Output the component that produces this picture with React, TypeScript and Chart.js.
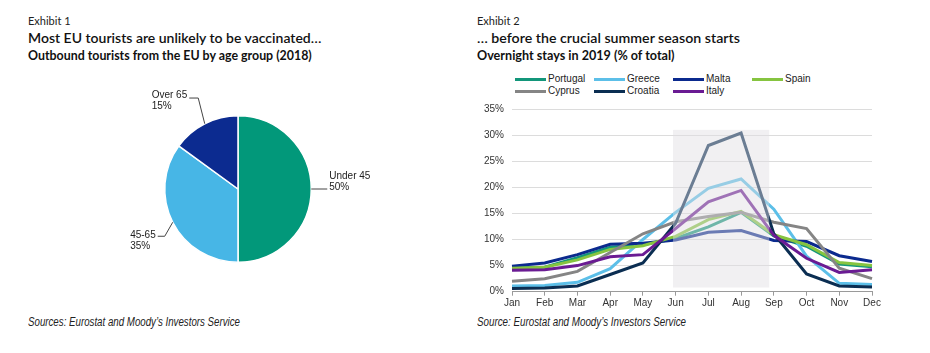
import React, { useEffect, useRef } from "react";
import { Chart, registerables } from "chart.js";

Chart.register(...registerables);

// ---------- Exhibit 1 data ----------
const ageGroups = ["Under 45", "45-65", "Over 65"];
const ageShares = [50, 35, 15];
const ageColors = ["#02987a", "#47b6e6", "#0c2b90"];

// ---------- Exhibit 2 data ----------
const months = ["Jan", "Feb", "Mar", "Apr", "May", "Jun", "Jul", "Aug", "Sep", "Oct", "Nov", "Dec"];
const portugal = [4.6, 4.7, 6.5, 8.5, 9.0, 10.2, 12.4, 15.2, 10.7, 8.7, 5.3, 4.8];
const greece = [1.1, 1.2, 1.8, 4.4, 10.0, 15.2, 19.8, 21.6, 15.8, 6.8, 1.6, 1.4];
const malta = [4.9, 5.5, 7.1, 9.1, 9.3, 9.9, 11.4, 11.7, 9.8, 9.6, 6.9, 5.8];
const spain = [4.5, 4.7, 6.1, 8.1, 8.8, 10.6, 13.8, 15.4, 10.9, 9.0, 5.6, 5.0];
const cyprus = [2.0, 2.5, 3.9, 7.5, 11.1, 13.4, 14.4, 15.2, 13.3, 12.1, 4.5, 2.5];
const croatia = [0.6, 0.7, 1.1, 3.3, 5.5, 13.1, 28.0, 30.4, 11.1, 3.4, 1.1, 0.9];
const italy = [4.1, 4.2, 5.0, 6.7, 7.1, 12.1, 17.2, 19.4, 10.8, 6.4, 3.7, 4.2];

const seriesNames = ["Portugal", "Greece", "Malta", "Spain", "Cyprus", "Croatia", "Italy"];
const seriesValues = [portugal, greece, malta, spain, cyprus, croatia, italy];
const seriesColors = ["#13967a", "#5cbfe8", "#0b2a8e", "#86c440", "#858585", "#0b2e52", "#6a1b93"];
const seriesOrder = [7, 6, 5, 4, 3, 2, 1];

const yTickValues = [0, 5, 10, 15, 20, 25, 30, 35];

// summer season shading (category index range and % range)
const shadeFrom = 4.92;
const shadeTo = 7.86;
const shadeTop = 31;
const shadeBottom = 0.8;

const FONT = '"Liberation Sans", Arial, sans-serif';
const HEAD = 'Lato, "Open Sans", sans-serif';
const SRC_FONT = '"Liberation Sans", Arial, sans-serif';

// label leader line layout for pie (relative to arc edge)
const pieLabelLayout = [
  { path: [[16, 0]], side: "right", dy1: -12.5 },
  { path: [[-8, 14], [-15, 14]], side: "left", dy1: -1 },
  { path: [[-6.5, -25.7], [-15.5, -25.7]], side: "left", dy1: -2.3 },
];

const pieLabelPlugin = {
  id: "pieLabels",
  afterDraw(chart: any) {
    const ctx = chart.ctx;
    const meta = chart.getDatasetMeta(0);
    meta.data.forEach((arc: any, i: number) => {
      const p = arc.getProps(["x", "y", "startAngle", "endAngle", "outerRadius"], true);
      const mid = (p.startAngle + p.endAngle) / 2;
      const ex = p.x + Math.cos(mid) * p.outerRadius;
      const ey = p.y + Math.sin(mid) * p.outerRadius;
      const lay = pieLabelLayout[i];
      ctx.save();
      ctx.beginPath();
      ctx.moveTo(ex, ey);
      let px = ex;
      let py = ey;
      lay.path.forEach(([dx, dy]) => {
        px = ex + dx;
        py = ey + dy;
        ctx.lineTo(px, py);
      });
      ctx.strokeStyle = "#444";
      ctx.lineWidth = 1;
      ctx.stroke();
      const lines = [ageGroups[i], ageShares[i] + "%"];
      ctx.font = "10px " + FONT;
      ctx.fillStyle = "#222";
      ctx.textBaseline = "middle";
      ctx.textAlign = "left";
      const w = ctx.measureText(lines[0]).width;
      const tx = lay.side === "right" ? px + 2 : px - 2 - w;
      ctx.fillText(lines[0], tx, py + lay.dy1);
      ctx.fillText(lines[1], tx, py + lay.dy1 + 11);
      ctx.restore();
    });
  },
};

const shadePlugin = {
  id: "summerShade",
  afterDatasetsDraw(chart: any) {
    const { ctx, scales } = chart;
    const x = scales.x;
    const y = scales.y;
    const x0 = x.getPixelForValue(shadeFrom);
    const x1 = x.getPixelForValue(shadeTo);
    const y0 = y.getPixelForValue(shadeTop);
    const y1 = y.getPixelForValue(shadeBottom);
    ctx.save();
    ctx.fillStyle = "rgba(224,222,226,0.45)";
    ctx.fillRect(x0, y0, x1 - x0, y1 - y0);
    ctx.restore();
  },
};

const abs = (left: number, top: number, extra: any = {}) => ({
  position: "absolute" as const,
  left,
  top,
  whiteSpace: "nowrap" as const,
  lineHeight: 1,
  ...extra,
});

export default function App() {
  const pieRef = useRef<HTMLCanvasElement>(null);
  const lineRef = useRef<HTMLCanvasElement>(null);
  const src1Ref = useRef<HTMLDivElement>(null);
  const src2Ref = useRef<HTMLDivElement>(null);

  useEffect(() => {
    // condense source notes to the reference width
    const fit = (el: HTMLDivElement | null, target: number) => {
      if (!el) return;
      const w = el.getBoundingClientRect().width;
      if (w > 0) el.style.transform = `scaleX(${target / w})`;
    };
    fit(src1Ref.current, 212);
    fit(src2Ref.current, 209);

    const pie = new Chart(pieRef.current as HTMLCanvasElement, {
      type: "pie",
      data: {
        labels: ageGroups,
        datasets: [
          {
            data: ageShares,
            backgroundColor: ageColors,
            borderColor: "#ffffff",
            borderWidth: 1.5,
            hoverOffset: 0,
            offset: 0,
          } as any,
        ],
      },
      options: {
        responsive: false,
        animation: false,
        events: [],
        layout: { padding: { left: 46, right: 66, top: 36, bottom: 36 } },
        plugins: { legend: { display: false }, tooltip: { enabled: false } },
      },
      plugins: [pieLabelPlugin],
    });

    const line = new Chart(lineRef.current as HTMLCanvasElement, {
      type: "line",
      data: {
        labels: months,
        datasets: seriesNames.map((name, i) => ({
          label: name,
          data: seriesValues[i],
          borderColor: seriesColors[i],
          backgroundColor: seriesColors[i],
          borderWidth: 3,
          pointRadius: 0,
          tension: 0,
          fill: false,
          order: seriesOrder[i],
        })),
      },
      options: {
        responsive: false,
        animation: false,
        events: [],
        layout: { padding: { left: 0, right: 18, top: 8, bottom: 0 } },
        plugins: { legend: { display: false }, tooltip: { enabled: false } },
        scales: {
          x: {
            offset: false,
            grid: { drawOnChartArea: false, drawTicks: true, tickLength: 4, color: "#9a9a9a" },
            border: { display: true, color: "#9a9a9a", width: 1 },
            ticks: { color: "#333", font: { family: FONT, size: 10 }, padding: 2, maxRotation: 0, autoSkip: false },
            afterFit: (s: any) => {
              s.height = 23.3;
            },
          },
          y: {
            min: 0,
            max: 35,
            afterBuildTicks: (s: any) => {
              s.ticks = yTickValues.map((v) => ({ value: v }));
            },
            grid: { drawTicks: false, color: "#dcdcdc", lineWidth: 1 },
            border: { display: false },
            ticks: {
              color: "#333",
              font: { family: FONT, size: 10 },
              padding: 8,
              callback: (v: any) => v + "%",
            },
            afterFit: (s: any) => {
              s.width = 52;
            },
          },
        },
      },
      plugins: [shadePlugin],
    });

    return () => {
      pie.destroy();
      line.destroy();
    };
  }, []);

  const legendCols = [515, 594, 673, 752];
  const legendRows = [79, 91.7];

  return (
    <div style={{ position: "absolute", left: 0, top: 0, width: 930, height: 353, background: "#fff", overflow: "hidden" }}>
      {/* Exhibit 1 */}
      <div style={abs(28, 15, { fontFamily: HEAD, fontSize: 11, color: "#222" })}>Exhibit 1</div>
      <div style={abs(28, 31, { fontFamily: HEAD, fontSize: 14, fontWeight: 600, color: "#111" })}>
        Most EU tourists are unlikely to be vaccinated…
      </div>
      <div style={abs(28, 50, { fontFamily: HEAD, fontSize: 12.4, fontWeight: 700, color: "#111" })}>
        Outbound tourists from the EU by age group (2018)
      </div>
      <canvas ref={pieRef} width={260} height={220} style={{ position: "absolute", left: 118, top: 79, width: 260, height: 220 }} />
      <div
        ref={src1Ref}
        style={abs(28, 316, { fontFamily: SRC_FONT, fontStyle: "italic", fontSize: 12.5, color: "#222", transformOrigin: "0 0" })}
      >
        Sources: Eurostat and Moody’s Investors Service
      </div>

      {/* Exhibit 2 */}
      <div style={abs(477, 15, { fontFamily: HEAD, fontSize: 11, color: "#222" })}>Exhibit 2</div>
      <div style={abs(477, 31, { fontFamily: HEAD, fontSize: 14.2, fontWeight: 600, color: "#111" })}>
        … before the crucial summer season starts
      </div>
      <div style={abs(477, 50, { fontFamily: HEAD, fontSize: 12.6, fontWeight: 700, color: "#111" })}>
        Overnight stays in 2019 (% of total)
      </div>
      {seriesNames.map((name, i) => {
        const col = i < 4 ? i : i - 4;
        const row = i < 4 ? 0 : 1;
        const x = legendCols[col];
        const y = legendRows[row];
        return (
          <React.Fragment key={name}>
            <div style={{ position: "absolute", left: x, top: y - 1.5, width: 31, height: 3, background: seriesColors[i] }} />
            <div style={abs(x + 33, y - 5.5, { fontFamily: FONT, fontSize: 10, color: "#222" })}>{name}</div>
          </React.Fragment>
        );
      })}
      <canvas ref={lineRef} width={430} height={220} style={{ position: "absolute", left: 460, top: 95, width: 430, height: 220 }} />
      <div
        ref={src2Ref}
        style={abs(477, 316, { fontFamily: SRC_FONT, fontStyle: "italic", fontSize: 12.5, color: "#222", transformOrigin: "0 0" })}
      >
        Source: Eurostat and Moody’s Investors Service
      </div>
    </div>
  );
}
